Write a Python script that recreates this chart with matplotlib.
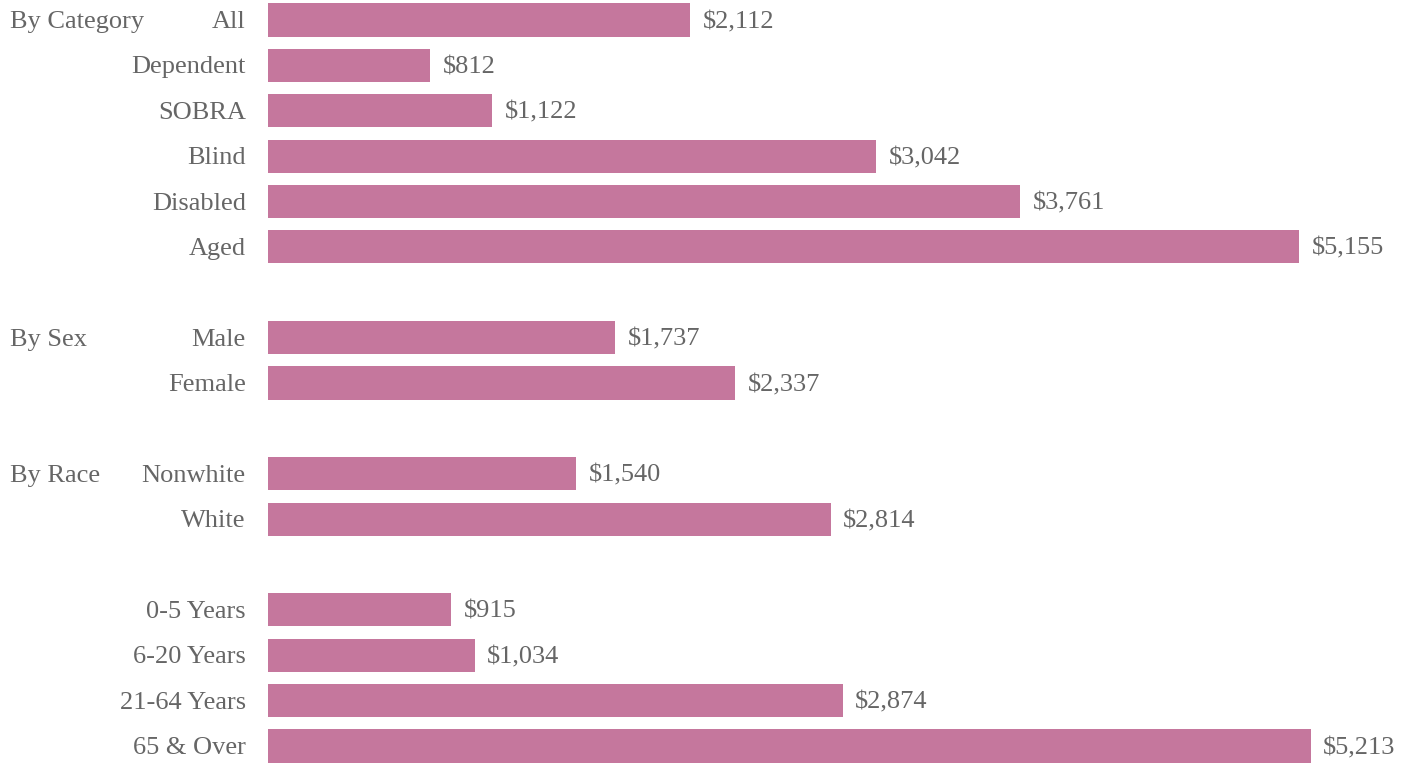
import matplotlib
matplotlib.use("Agg")
import matplotlib.pyplot as plt

# Average expenditure per recipient, grouped by breakdown
categories = ["All", "Dependent", "SOBRA", "Blind", "Disabled", "Aged",
              "Male", "Female",
              "Nonwhite", "White",
              "0-5 Years", "6-20 Years", "21-64 Years", "65 & Over"]
values = [2112, 812, 1122, 3042, 3761, 5155,
          1737, 2337,
          1540, 2814,
          915, 1034, 2874, 5213]
# Row slots (blank slot between groups)
rows = [0, 1, 2, 3, 4, 5,
        7, 8,
        10, 11,
        13, 14, 15, 16]
group_labels = ["By Category", "By Sex", "By Race"]
group_rows = [0, 7, 10]

bar_color = "#c5779d"
text_color = "#666666"
font = ["Liberation Serif", "DejaVu Serif"]
fs = 19
text_drop = -1.5  # points; nudges labels slightly below the bar centre

W, H = 1418, 765
fig = plt.figure(figsize=(W / 100, H / 100), dpi=100)
fig.patch.set_facecolor("white")

left_px = 268
xmax = 5350
px_per_unit = 0.2
ax = fig.add_axes([left_px / W, 0.0, xmax * px_per_unit / W, 1.0])
ax.set_xlim(0, xmax)
ax.set_ylim(16.42, -0.44)
ax.axis("off")

ax.barh(rows, values, height=0.73, color=bar_color, edgecolor="none")

for r, v, c in zip(rows, values, categories):
    ax.annotate(f"${v:,}", xy=(v, r), xytext=(9, text_drop), textcoords="offset points",
                ha="left", va="center", fontsize=fs, family=font, color=text_color)
    ax.annotate(c, xy=(0, r), xytext=(-16, text_drop), textcoords="offset points",
                ha="right", va="center", fontsize=fs, family=font, color=text_color,
                annotation_clip=False)

for g, r in zip(group_labels, group_rows):
    ax.annotate(g, xy=(0, r), xycoords=("figure pixels", "data"),
                xytext=(10 * 72 / 100, text_drop), textcoords="offset points",
                ha="left", va="center", fontsize=fs, family=font, color=text_color,
                annotation_clip=False)

fig.savefig("out.png", dpi=100, facecolor="white")
